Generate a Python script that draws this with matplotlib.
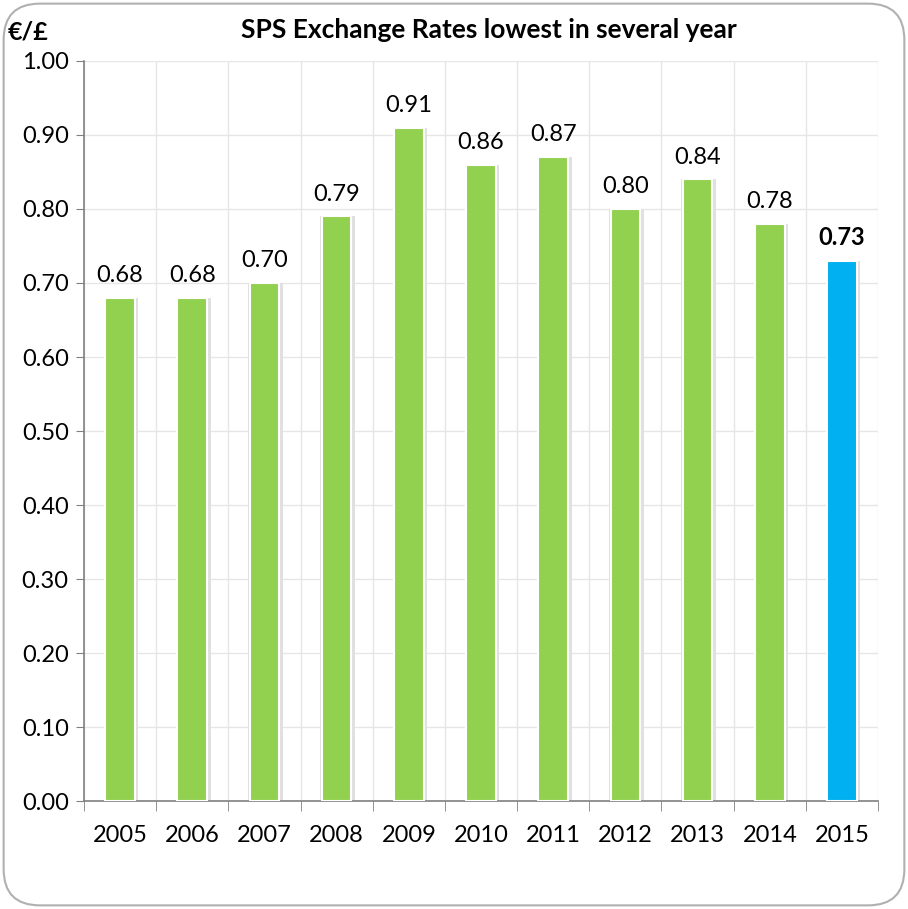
import numpy as np
import matplotlib.pyplot as plt
from matplotlib.patches import FancyBboxPatch

#
# Data
years = ['2005', '2006', '2007', '2008', '2009', '2010', '2011', '2012', '2013', '2014', '2015']
rates = [0.68, 0.68, 0.70, 0.79, 0.91, 0.86, 0.87, 0.80, 0.84, 0.78, 0.73]
colors = ['#92D050'] * 10 + ['#00B0F0']

plt.rcParams['font.family'] = ['Lato', 'DejaVu Sans']

fig = plt.figure(figsize=(9.08, 9.09), dpi=100)
ax = fig.add_axes([0.0925, 0.1188, 0.8745, 0.8141])

#
# Rounded border around the chart
frame = FancyBboxPatch((0.004, 0.004), 0.992, 0.992, boxstyle='round,pad=0,rounding_size=0.04',
                       transform=fig.transFigure, facecolor='white', edgecolor='#b0b0b0',
                       linewidth=1.5, zorder=-10)
fig.patches.append(frame)
ax.set_facecolor('none')

x = np.arange(len(years))
# bar shadow / outline
ax.bar(x + 0.015, rates, width=0.48, color='#e0e0e0', zorder=2)
ax.bar(x, rates, width=0.41, color=colors, edgecolor='white', linewidth=1.5, zorder=3)

for i, v in enumerate(rates):
    ax.text(x[i], v + 0.016, f'{v:.2f}', ha='center', va='bottom', fontsize=17,
            fontweight='bold' if i == len(rates) - 1 else 'normal')

ax.set_xlim(-0.5, len(years) - 0.5)
ax.set_ylim(0, 1.0)
ax.set_yticks(np.arange(0, 1.01, 0.1))
ax.set_yticklabels([f'{t:.2f}' for t in np.arange(0, 1.01, 0.1)], fontsize=17)
ax.set_xticks(x)
ax.set_xticklabels(years, fontsize=17)
ax.set_xticks(np.arange(-0.5, len(years), 1), minor=True)
ax.tick_params(axis='x', which='major', length=0, pad=17)
ax.tick_params(axis='x', which='minor', length=7, color='#808080', direction='out')
ax.tick_params(axis='y', length=6, color='#808080', pad=5)

ax.grid(True, which='major', axis='y', color='#e6e6e6', linewidth=1, zorder=0)
ax.grid(True, which='minor', axis='x', color='#e6e6e6', linewidth=1, zorder=0)
ax.set_axisbelow(True)

for s in ['top', 'right']:
    ax.spines[s].set_visible(False)
for s in ['left', 'bottom']:
    ax.spines[s].set_color('#808080')
    ax.spines[s].set_linewidth(1.2)

fig.text(0.538, 0.967, 'SPS Exchange Rates lowest in several year', ha='center', va='center',
         fontsize=19, fontweight='bold')
fig.text(0.008, 0.965, '€/£', ha='left', va='center', fontsize=18, fontweight='bold')

fig.savefig('out.png', dpi=100)
